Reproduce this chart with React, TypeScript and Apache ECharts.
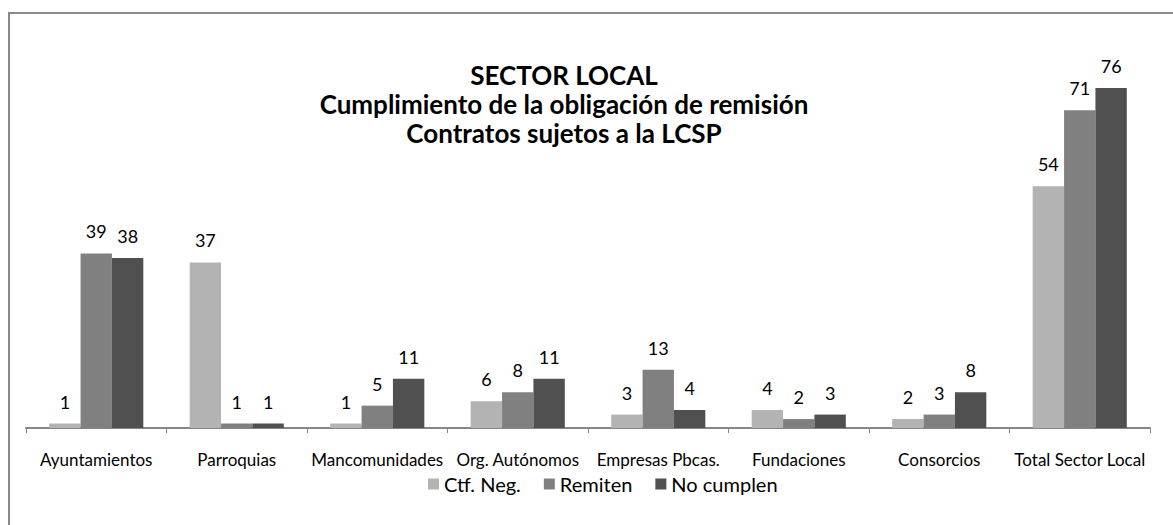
import React, { useEffect, useRef } from "react";
import * as echarts from "echarts";

const categories = [
  "Ayuntamientos",
  "Parroquias",
  "Mancomunidades",
  "Org. Autónomos",
  "Empresas Pbcas.",
  "Fundaciones",
  "Consorcios",
  "Total Sector Local",
];
const ctfNeg = [1, 37, 1, 6, 3, 4, 2, 54];
const remiten = [39, 1, 5, 8, 13, 2, 3, 71];
const noCumplen = [38, 1, 11, 11, 4, 3, 8, 76];
const seriesNames = ["Ctf. Neg.", "Remiten", "No cumplen"];
const colors = ["#b3b3b3", "#808080", "#505050"];
const titleLines = [
  "SECTOR LOCAL",
  "Cumplimiento de la obligación de remisión",
  "Contratos sujetos a la LCSP",
];

const FONT = "Lato, 'Open Sans', sans-serif";

export default function App() {
  const ref = useRef<HTMLDivElement>(null);
  useEffect(() => {
    if (!ref.current) return;
    const chart = echarts.init(ref.current, undefined, { renderer: "svg" });
    const dataSets = [ctfNeg, remiten, noCumplen];
    const titleTops = [61, 90, 119];
    chart.setOption({
      animation: false,
      backgroundColor: "#ffffff",
      textStyle: { fontFamily: FONT },
      title: titleLines.map((t, i) => ({
        text: t,
        left: 564,
        textAlign: "center",
        top: titleTops[i],
        padding: 0,
        textStyle: {
          fontFamily: FONT,
          fontWeight: "bold",
          fontSize: 26,
          lineHeight: 27,
          color: "#000",
        },
      })),
      legend: {
        data: seriesNames,
        left: 428,
        top: 474,
        padding: 0,
        itemWidth: 11,
        itemHeight: 11,
        itemGap: 23,
        icon: "rect",
        textStyle: { fontFamily: FONT, fontSize: 20, color: "#000" },
      },
      grid: { left: 26, right: 23, top: 70, bottom: 97 },
      xAxis: {
        type: "category",
        data: categories,
        axisLine: { lineStyle: { color: "#868686", width: 2 } },
        axisTick: { show: true, length: 5, lineStyle: { color: "#868686", width: 1 } },
        axisLabel: {
          interval: 0,
          margin: 23,
          fontFamily: FONT,
          fontSize: 17,
          color: "#000",
        },
      },
      yAxis: {
        type: "value",
        min: 0,
        max: 80,
        show: false,
        splitLine: { show: false },
      },
      graphic: [
        {
          type: "line",
          shape: { x1: 9, y1: 13, x2: 9, y2: 525 },
          style: { stroke: "#888888", lineWidth: 2 },
        },
        {
          type: "line",
          shape: { x1: 8, y1: 13, x2: 1173, y2: 13 },
          style: { stroke: "#888888", lineWidth: 2 },
        },
      ],
      series: dataSets.map((d, i) => ({
        name: seriesNames[i],
        type: "bar",
        data: d,
        barGap: "0%",
        barCategoryGap: "33%",
        itemStyle: { color: colors[i] },
        label: {
          show: true,
          position: "top",
          distance: 13,
          fontFamily: FONT,
          fontSize: 18,
          color: "#000",
        },
      })),
    });
    return () => chart.dispose();
  }, []);
  return (
    <div
      ref={ref}
      style={{ position: "fixed", left: 0, top: 0, width: 1173, height: 525 }}
    />
  );
}
